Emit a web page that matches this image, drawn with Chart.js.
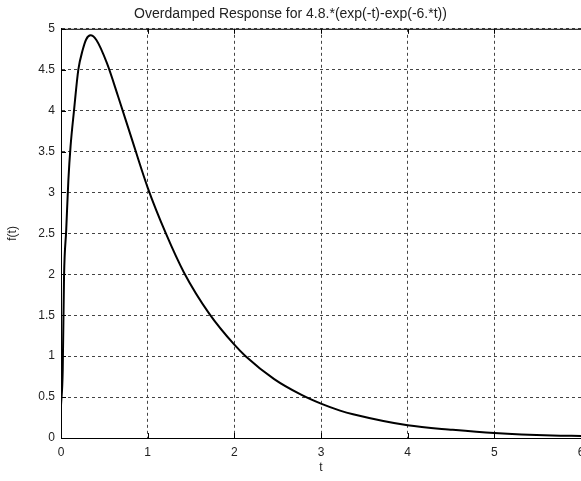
<!DOCTYPE html>
<html>
<head>
<meta charset="utf-8">
<script src="https://cdn.jsdelivr.net/npm/chart.js@4"></script>
<style>
  body { margin: 0; background: #fff; overflow: hidden; }
  #wrap { position: relative; width: 581px; height: 481px; }
</style>
</head>
<body>
<div id="wrap"><canvas id="graph"></canvas></div>
<script>
// values
const tValues = [0, 0.02, 0.035, 0.06, 0.085, 0.11, 0.15, 0.2, 0.25, 0.29, 0.34, 0.41, 0.53, 0.66, 0.8, 1.0,
                 1.21, 1.42, 1.71, 2.0, 2.13, 2.46, 2.77, 3.0, 3.22, 3.37, 4.0, 4.52, 5.0, 5.67, 6.0];
const fValues = [0.4, 0.83, 1.97, 2.54, 3.15, 3.56, 4.0, 4.5, 4.74, 4.87, 4.92, 4.86, 4.58, 4.17, 3.71, 3.06,
                 2.5, 2.02, 1.52, 1.14, 1.0, 0.72, 0.53, 0.42, 0.335, 0.29, 0.155, 0.1, 0.06, 0.03, 0.025];
const titleText = 'Overdamped Response for 4.8.*(exp(-t)-exp(-6.*t))';
const xLabel = 't';
const yLabel = 'f(t)';

const font = { family: 'Liberation Sans, Arial, sans-serif', size: 12 };

// box round the axes with inward ticks, like matlab
const framePlugin = {
    id: 'frame',
    afterDraw(chart) {
        const a = chart.chartArea;
        const c = chart.ctx;
        const len = 5;
        c.save();
        c.strokeStyle = '#000';
        c.lineWidth = 1;
        c.strokeRect(a.left + 0.5, a.top + 0.5, a.right - a.left, a.bottom - a.top);
        c.beginPath();
        chart.scales.x.ticks.forEach(t => {
            const px = Math.round(chart.scales.x.getPixelForValue(t.value)) + 0.5;
            c.moveTo(px, a.bottom); c.lineTo(px, a.bottom - len);
            c.moveTo(px, a.top); c.lineTo(px, a.top + len);
        });
        chart.scales.y.ticks.forEach(t => {
            const py = Math.round(chart.scales.y.getPixelForValue(t.value)) + 0.5;
            c.moveTo(a.left, py); c.lineTo(a.left + len, py);
        });
        c.stroke();
        c.restore();
    }
};

const ctx = document.getElementById('graph').getContext('2d');
const chart = new Chart(ctx, {
    type: 'line',
    data: {
        datasets: [{
            data: tValues.map((t, i) => ({ x: t, y: fValues[i] })),
            borderColor: '#000',
            borderWidth: 2,
            pointRadius: 0,
            fill: false,
            cubicInterpolationMode: 'monotone'
        }]
    },
    options: {
        responsive: true,
        maintainAspectRatio: false,
        animation: false,
        layout: { padding: 0 },
        scales: {
            x: {
                type: 'linear',
                min: 0,
                max: 6,
                ticks: { stepSize: 1, font: font, color: '#222', padding: 7, maxRotation: 0 },
                grid: { color: '#444', drawTicks: false, lineWidth: 1 },
                border: { color: '#000', dash: [3, 3] },
                title: { display: true, text: xLabel, font: font, color: '#222', padding: { top: 0, bottom: 6 } },
                afterFit(scale) { scale.height = 43; scale.paddingRight = 0; scale.paddingLeft = 0; }
            },
            y: {
                min: 0,
                max: 5,
                ticks: {
                    stepSize: 0.5, font: font, color: '#222', padding: 6,
                    callback: v => String(v)
                },
                grid: { color: '#444', drawTicks: false, lineWidth: 1 },
                border: { color: '#000', dash: [3, 3] },
                title: { display: true, text: yLabel, font: font, color: '#222', padding: { top: 5, bottom: 0 } },
                afterFit(scale) { scale.width = 61; }
            }
        },
        plugins: {
            legend: { display: false },
            tooltip: { enabled: false },
            title: {
                display: true,
                text: titleText,
                font: { family: font.family, size: 14, weight: 'normal' },
                color: '#222',
                padding: { top: 6, bottom: 6 }
            }
        }
    },
    plugins: [framePlugin]
});
</script>
</body>
</html>
